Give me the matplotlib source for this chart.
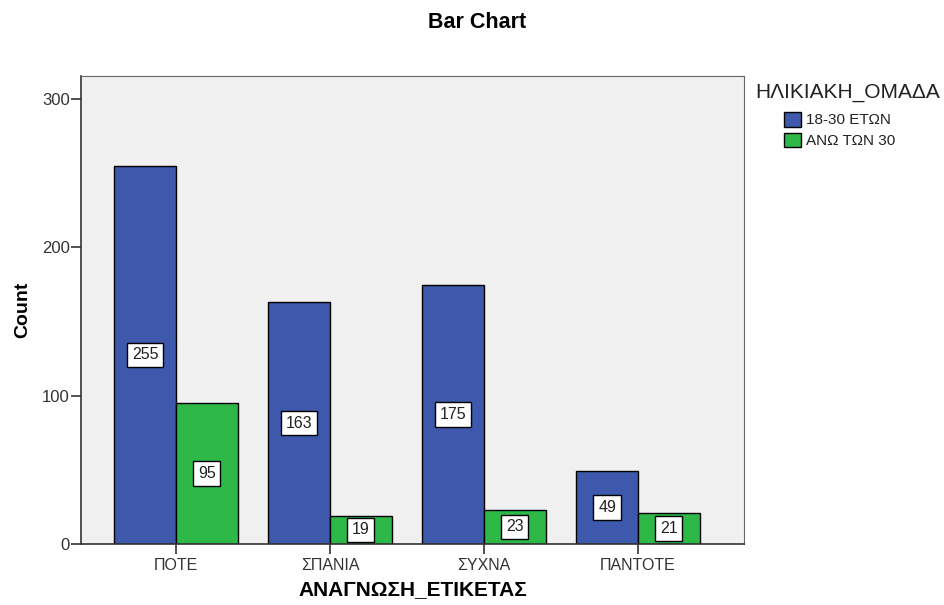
import matplotlib.pyplot as plt
import numpy as np
from matplotlib.patches import Patch

categories = ["ΠΟΤΕ", "ΣΠΑΝΙΑ", "ΣΥΧΝΑ", "ΠΑΝΤΟΤΕ"]
young = [255, 163, 175, 49]
older = [95, 19, 23, 21]
series_names = ["18-30 ΕΤΩΝ", "ΑΝΩ ΤΩΝ 30"]
legend_title = "ΗΛΙΚΙΑΚΗ_ΟΜΑΔΑ"
colors = ["#3E58AC", "#2EB848"]

plt.rcParams['font.family'] = ['Arial', 'Liberation Sans', 'DejaVu Sans']

fig = plt.figure(figsize=(9.44, 6.05), dpi=100)
ax = fig.add_axes([0.0858, 0.1008, 0.7022, 0.7732])
ax.set_facecolor("#F0F0F0")

x = np.arange(len(categories))
w = 0.4
for vals, offset, color in [(young, -w / 2, colors[0]), (older, w / 2, colors[1])]:
    bars = ax.bar(x + offset, vals, width=w, color=color, edgecolor="black", linewidth=1.0)
    for b, v in zip(bars, vals):
        ax.text(b.get_x() + b.get_width() / 2, v / 2, str(v), ha="center", va="center",
                fontsize=11.5, color="#222222",
                bbox=dict(boxstyle="square,pad=0.3", facecolor="white", edgecolor="black", linewidth=1.0))

ax.set_xlim(-0.617, 3.688)
ax.set_ylim(0, 315.5)
ax.set_xticks(x)
ax.set_xticklabels(categories, fontsize=11.5, color="#333333")
ax.set_yticks([0, 100, 200, 300])
ax.tick_params(axis="y", labelsize=12, colors="#333333", length=7, width=1.2, direction="out", pad=1)
ax.tick_params(axis="x", length=7, width=1.2, direction="out", pad=3)
ax.tick_params(axis="both", color="#333333")
for s in ["left", "bottom"]:
    ax.spines[s].set_color("#333333")
    ax.spines[s].set_linewidth(1.2)
for s in ["top", "right"]:
    ax.spines[s].set_color("#666666")
    ax.spines[s].set_linewidth(0.8)

ax.set_ylabel("Count", fontsize=14, fontweight="bold", labelpad=8)
ax.set_xlabel("ΑΝΑΓΝΩΣΗ_ΕΤΙΚΕΤΑΣ", fontsize=15, fontweight="bold", labelpad=5)
fig.text(0.505, 0.963, "Bar Chart", ha="center", va="center", fontsize=15.5, fontweight="bold")

fig.text(0.800, 0.847, legend_title, ha="left", va="center", fontsize=15, color="#222222")
handles = [Patch(facecolor=c, edgecolor="black", linewidth=1.0) for c in colors]
leg = fig.legend(handles, series_names, loc="upper left",
                 bbox_to_anchor=(0.831, 0.815), frameon=False, fontsize=11,
                 handlelength=1.1, handleheight=1.1,
                 handletextpad=0.3, labelspacing=0.35, borderpad=0.0, borderaxespad=0.0)
for t in leg.get_texts():
    t.set_color("#222222")

fig.savefig("out.png", dpi=100)
